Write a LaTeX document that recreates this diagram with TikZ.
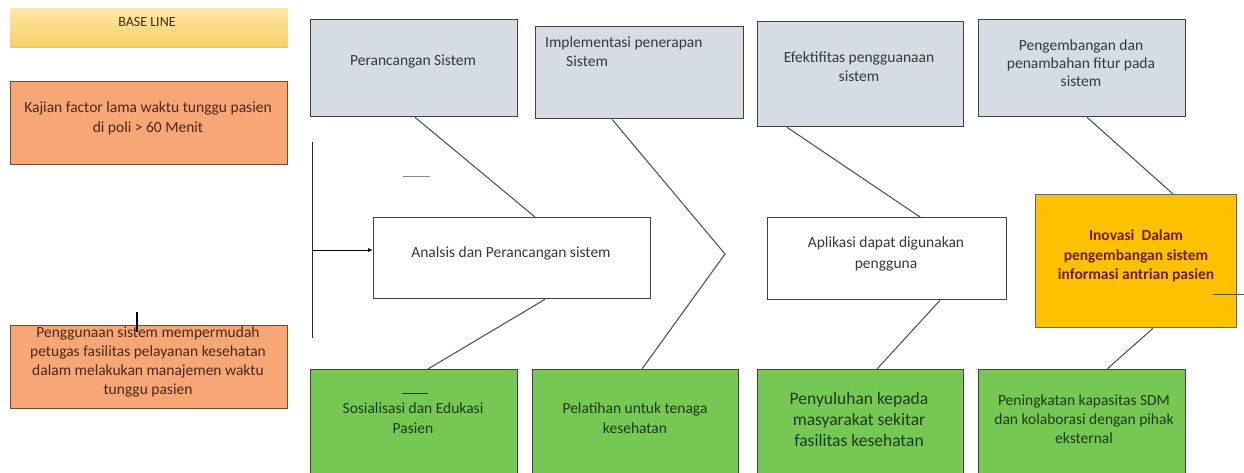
\documentclass[tikz,border=0pt]{standalone}
\usepackage{fontspec}
\setmainfont{Carlito}
\usetikzlibrary{calc,arrows.meta}
\definecolor{grayfill}{HTML}{D6DCE4}
\definecolor{greenfill}{HTML}{74C853}
\definecolor{salmon}{HTML}{F7A676}
\definecolor{gold}{HTML}{FFC000}
\definecolor{byellowtop}{HTML}{FFE7A6}
\definecolor{byellowbot}{HTML}{F7CF66}
\definecolor{linegray}{HTML}{555555}
\definecolor{browntext}{HTML}{4A2818}
\definecolor{greentext}{HTML}{1F3A12}
\definecolor{graytext}{HTML}{383838}
\definecolor{redtext}{HTML}{6A2000}
\tikzset{
  x=1pt, y=-1pt,
  boxbase/.style={rectangle, inner sep=0pt, anchor=north west, line width=1.3pt},
  graybox/.style={boxbase, draw=black!75, fill=grayfill},
  greenbox/.style={boxbase, draw=black!75, fill=greenfill},
  whitebox/.style={boxbase, draw=black!75, fill=white},
  salmonbox/.style={boxbase, draw=brown!60!black, fill=salmon},
  goldbox/.style={boxbase, draw=black!60, fill=gold},
  txt/.style={align=center, inner sep=0pt, font=\fontsize{15.5}{19}\selectfont, text=graytext},
  conn/.style={draw=linegray, line width=1.1pt},
}
\begin{document}
\begin{tikzpicture}
\useasboundingbox (0,0) rectangle (1244,473);
\fill[white] (0,0) rectangle (1244,473);

% left column
\node[boxbase, top color=byellowtop, bottom color=byellowbot, minimum width=277pt, minimum height=38pt] (base) at (10,8) {};
\draw[byellowbot!80!brown, line width=1pt] (base.south west) -- (base.south east);
\node[txt, font=\fontsize{14}{16}\selectfont, text=browntext] (baset) at (147,22) {BASE LINE};

\node[salmonbox, minimum width=277pt, minimum height=83pt] (kaj) at (10,81) {};
\node[txt, text=browntext, font=\fontsize{15.5}{20}\selectfont] (kajt) at (148,118) {Kajian factor lama waktu tunggu pasien\\di poli > 60 Menit};

\node[salmonbox, minimum width=277pt, minimum height=83pt] (peng) at (10,325) {};
\node[txt, text=browntext] (pengt) at (148,362) {Penggunaan sistem mempermudah\\petugas fasilitas pelayanan kesehatan\\dalam melakukan manajemen waktu\\tunggu pasien};
\coordinate (m1) at (137,312);
\coordinate (m2) at (137,332);
\draw[black, line width=2pt] (m1) -- (m2);

% spine
\coordinate (vtop) at (312,142);
\coordinate (vbot) at (312,338);
\coordinate (vmid) at (312,250);
\draw[black!85, line width=0.9pt] (vtop) -- (vbot);

% top gray boxes
\node[graybox, minimum width=207pt, minimum height=97pt] (g1) at (310,19) {};
\node[txt] (g1t) at (413,62) {Perancangan Sistem};
\node[graybox, minimum width=208pt, minimum height=92pt] (g2) at (535,26) {};
\node[txt, align=left, anchor=west] (g2t) at (545,52) {Implementasi penerapan\\\hspace*{21pt}Sistem};
\node[graybox, minimum width=206pt, minimum height=105pt] (g3) at (757,21) {};
\node[txt] (g3t) at (859,67) {Efektifitas pengguanaan\\sistem};
\node[graybox, minimum width=207pt, minimum height=97pt] (g4) at (978,19) {};
\node[txt, font=\fontsize{15.5}{18}\selectfont] (g4t) at (1081,63) {Pengembangan dan\\penambahan fitur pada\\sistem};

% middle boxes
\node[whitebox, minimum width=277pt, minimum height=81pt] (an) at (373,217) {};
\node[txt] (ant) at (511,253) {Analsis dan Perancangan sistem};
\node[whitebox, minimum width=239pt, minimum height=82pt] (ap) at (767,217) {};
\node[txt, font=\fontsize{15.5}{20.5}\selectfont] (apt) at (886,254) {Aplikasi dapat digunakan\\pengguna};
\node[goldbox, minimum width=201pt, minimum height=133pt] (ino) at (1035,194) {};
\node[txt, font=\fontsize{15.5}{19.5}\selectfont\bfseries, text=redtext] (inot) at (1136,256) {Inovasi~ Dalam\\pengembangan sistem\\informasi antrian pasien};
\coordinate (r1) at (1213,294);
\coordinate (r2) at (1244,294);
\draw[linegray, line width=1pt] (r1) -- (r2);

% bottom green boxes
\node[greenbox, minimum width=207pt, minimum height=120pt] (b1) at (310,369) {};
\node[txt, text=greentext, font=\fontsize{15.5}{20}\selectfont] (b1t) at (413,418) {Sosialisasi dan Edukasi\\Pasien};
\node[greenbox, minimum width=206pt, minimum height=120pt] (b2) at (532,369) {};
\node[txt, text=greentext, font=\fontsize{15.5}{20}\selectfont] (b2t) at (635,418) {Pelatihan untuk tenaga\\kesehatan};
\node[greenbox, minimum width=206pt, minimum height=120pt] (b3) at (757,369) {};
\node[txt, text=greentext, font=\fontsize{17.5}{21}\selectfont] (b3t) at (859,419) {Penyuluhan kepada\\masyarakat sekitar\\fasilitas kesehatan};
\node[greenbox, minimum width=207pt, minimum height=120pt] (b4) at (978,369) {};
\node[txt, text=greentext] (b4t) at (1084,419) {Peningkatan kapasitas SDM\\dan kolaborasi dengan pihak\\eksternal};

% stray short lines
\coordinate (s1) at (403,177);
\coordinate (s2) at (430,177);
\draw[linegray!70, line width=1pt] (s1) -- (s2);
\coordinate (s3) at (402,393);
\coordinate (s4) at (428,393);
\draw[greentext, line width=1pt] (s3) -- (s4);

% arrow
\draw[black, line width=0.9pt, -{Latex[length=5pt,width=4pt]}] (vmid) -- (an.west |- vmid);

% connectors
\coordinate (tip) at (725,254);
\draw[conn] ([xshift=105pt]g1.south west) -- ([xshift=162pt]an.north west);
\draw[conn] ([xshift=77pt]g2.south west) -- (tip) -- ([xshift=110pt]b2.north west);
\draw[conn] ([xshift=172pt]an.south west) -- ([xshift=118pt]b1.north west);
\draw[conn] ([xshift=30pt]g3.south west) -- ([xshift=153pt]ap.north west);
\draw[conn] ([xshift=173pt]ap.south west) -- ([xshift=120pt]b3.north west);
\draw[conn] ([xshift=109pt]g4.south west) -- ([xshift=138pt]ino.north west);
\draw[conn] ([xshift=118pt]ino.south west) -- ([xshift=129pt]b4.north west);
\end{tikzpicture}
\end{document}
